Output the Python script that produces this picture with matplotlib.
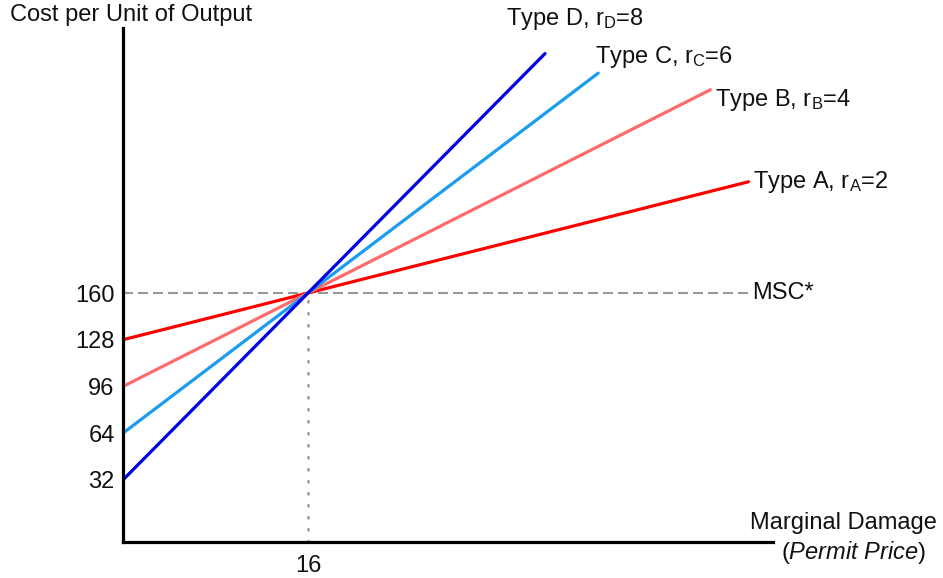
import matplotlib
matplotlib.use("Agg")
import matplotlib.pyplot as plt

# values
types = ["A", "B", "C", "D"]
rates = [2, 4, 6, 8]
x_start = [0, 0, 0, 0]
y_start = [128, 96, 64, 32]
x_mid = [16, 16, 16, 16]
y_mid = [160, 160, 160, 160]
x_end = [54.1, 50.8, 41.1, 36.5]
y_end = [236.2, 299.2, 310.6, 324.0]
colors = ["#ff0000", "#ff6b6b", "#1a9cf0", "#0000e6"]
label_offsets = [(4, 0), (5, -10), (-3, 16), (-39, 35)]  # px from line end

msc = 160
msc_x = 16
msc_end = 54.2
yticks = [32, 64, 96, 128, 160]
xticks = [16]

plt.rcParams["font.family"] = ["Liberation Sans", "DejaVu Sans"]
plt.rcParams["mathtext.fontset"] = "custom"
plt.rcParams["mathtext.rm"] = "Liberation Sans"
plt.rcParams["mathtext.it"] = "Liberation Sans:italic"
fs = 17
ink = "#111111"

fig = plt.figure(figsize=(9.43, 5.78), dpi=100)
W, H = 943, 578
ax = fig.add_axes([123 / W, 36 / H, 650 / W, 514 / H])
ax.set_xlim(0, 650 / 11.5625)
s = 1.46
ax.set_ylim(160 - 249 / s, 160 + 265 / s)

ax.plot([0, msc_end], [msc, msc], color="#999999", lw=1.5, dashes=(4.8, 2.4), zorder=1)
ax.plot([msc_x, msc_x], [ax.get_ylim()[0], msc], color="#999999", lw=1.8,
        dashes=(0.6, 4.2), dash_capstyle="round", zorder=1)

for t, r, xs, ys, xm, ym, xe, ye, c, off in zip(types, rates, x_start, y_start, x_mid, y_mid,
                                                x_end, y_end, colors, label_offsets):
    ax.plot([xs, xm, xe], [ys, ym, ye], color=c, lw=2.3, solid_capstyle="round", zorder=2)
    ax.annotate(f"Type {t}, r$_\\mathrm{{{t}}}$={r}", xy=(xe, ye),
                xytext=(off[0] * 0.72, off[1] * 0.72), textcoords="offset points",
                ha="left", va="center", fontsize=fs, color=ink)

ax.annotate("MSC*", xy=(msc_end, msc), xytext=(2, 0), textcoords="offset points",
            ha="left", va="center", fontsize=fs, color=ink)

for side in ["top", "right"]:
    ax.spines[side].set_visible(False)
for side in ["left", "bottom"]:
    ax.spines[side].set_linewidth(2.3)
ax.set_yticks(yticks)
ax.set_xticks(xticks)
ax.tick_params(length=0, labelsize=fs, colors=ink)
ax.tick_params(axis="y", pad=6)
ax.tick_params(axis="x", pad=9)

fig.text(10 / W, 1 - 15 / H, "Cost per Unit of Output", fontsize=fs, ha="left", va="center",
         color=ink)
fig.text(843 / W, 1 - 523 / H, "Marginal Damage", fontsize=fs, ha="center", va="center",
         color=ink)
fig.text(854 / W, 1 - 553 / H, r"($\mathit{Permit\ Price}$)", fontsize=fs, ha="center",
         va="center", color=ink)

fig.savefig("out.png", dpi=100)
